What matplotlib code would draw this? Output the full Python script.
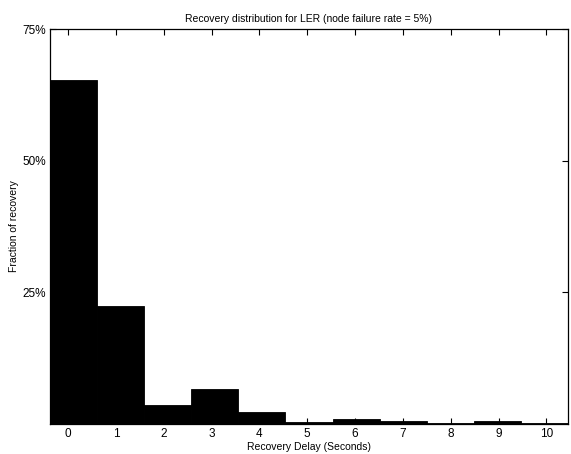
import numpy as np
import matplotlib
matplotlib.use("Agg")
import matplotlib.pyplot as plt

# fraction of recoveries (%) per delay bin
delay_ticks = list(range(11))
fraction = [65.3, 22.4, 3.6, 6.6, 2.3, 0.3, 0.9, 0.6, 0.2, 0.5, 0.2]
x_lo, x_hi = -0.38, 10.45
ytick_vals = [25, 50, 75]
ytick_labels = ["25%", "50%", "75%"]

plt.rcParams['font.family'] = ['Liberation Sans', 'DejaVu Sans']

fig = plt.figure(figsize=(5.71, 4.54), dpi=100)
ax = fig.add_axes([0.0876, 0.066, 0.907, 0.870])

width = (x_hi - x_lo) / len(fraction)
lefts = x_lo + width * np.arange(len(fraction))
ax.bar(lefts, fraction, width=width, align='edge', color='black', edgecolor='black', linewidth=0.6)

ax.set_xlim(x_lo, x_hi)
ax.set_ylim(0, 75)
ax.set_xticks(delay_ticks)
ax.set_yticks(ytick_vals)
ax.set_yticklabels(ytick_labels)
ax.tick_params(direction='in', top=True, right=True, labelsize=8.5, length=4, width=0.8, pad=3)
for s in ax.spines.values():
    s.set_linewidth(0.9)

ax.set_title("Recovery distribution for LER (node failure rate = 5%)", fontsize=7.5, pad=5)
ax.set_xlabel("Recovery Delay (Seconds)", fontsize=7.5, labelpad=1)
ax.set_ylabel("Fraction of recovery", fontsize=7.5, labelpad=2)

fig.savefig("out.png", dpi=100)
